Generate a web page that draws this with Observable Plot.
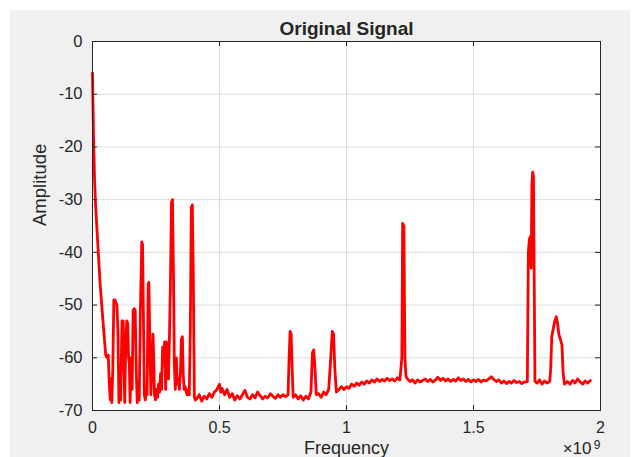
<!DOCTYPE html>
<html>
<head>
<meta charset="utf-8">
<script src="https://cdn.jsdelivr.net/npm/d3@7"></script>
<script src="https://cdn.jsdelivr.net/npm/@observablehq/plot@0.6"></script>
<style>
  html, body { margin: 0; padding: 0; background: #ffffff; }
  #fig { position: absolute; left: 10px; top: 10px; }
</style>
</head>
<body>
<div id="fig"></div>
<script>
// Spectrum of the original signal: frequency in units of 1e9 Hz, amplitude in dB
const freq = [
  0.000, 0.004, 0.008, 0.012, 0.018, 0.024, 0.030, 0.038, 0.046, 0.052,
  0.058, 0.062, 0.066, 0.070, 0.073, 0.076, 0.080, 0.084, 0.088, 0.092,
  0.096, 0.100, 0.104, 0.108, 0.111, 0.116, 0.121, 0.124, 0.127, 0.131,
  0.135, 0.139, 0.142, 0.145, 0.148, 0.152, 0.156, 0.160, 0.164, 0.168,
  0.172, 0.176, 0.180, 0.184, 0.189, 0.194, 0.197, 0.200, 0.204, 0.208,
  0.212, 0.215, 0.219, 0.222, 0.226, 0.230, 0.235, 0.238, 0.241, 0.244,
  0.248, 0.252, 0.256, 0.260, 0.264, 0.268, 0.272, 0.276, 0.280, 0.284,
  0.288, 0.291, 0.295, 0.299, 0.303, 0.307, 0.311, 0.315, 0.319, 0.322,
  0.326, 0.330, 0.334, 0.338, 0.342, 0.346, 0.350, 0.354, 0.357, 0.361,
  0.365, 0.369, 0.373, 0.377, 0.381, 0.385, 0.389, 0.393, 0.397, 0.401,
  0.405, 0.410, 0.420, 0.430, 0.440, 0.450, 0.460, 0.470, 0.480, 0.490,
  0.500, 0.505, 0.510, 0.520, 0.530, 0.540, 0.550, 0.560, 0.570, 0.580,
  0.590, 0.600, 0.610, 0.620, 0.630, 0.640, 0.650, 0.660, 0.670, 0.680,
  0.690, 0.700, 0.710, 0.720, 0.730, 0.740, 0.750, 0.760, 0.770, 0.774,
  0.778, 0.782, 0.786, 0.790, 0.800, 0.810, 0.820, 0.830, 0.840, 0.850,
  0.860, 0.866, 0.871, 0.876, 0.881, 0.890, 0.900, 0.910, 0.920, 0.930,
  0.938, 0.944, 0.949, 0.954, 0.960, 0.970, 0.980, 0.990, 1.000, 1.010,
  1.020, 1.030, 1.040, 1.050, 1.060, 1.070, 1.080, 1.090, 1.100, 1.110,
  1.120, 1.130, 1.140, 1.150, 1.160, 1.170, 1.180, 1.190, 1.200, 1.210,
  1.218, 1.221, 1.226, 1.230, 1.234, 1.240, 1.250, 1.260, 1.270, 1.280,
  1.290, 1.300, 1.310, 1.320, 1.330, 1.340, 1.350, 1.360, 1.370, 1.380,
  1.390, 1.400, 1.410, 1.420, 1.430, 1.440, 1.450, 1.460, 1.470, 1.480,
  1.490, 1.500, 1.510, 1.520, 1.530, 1.540, 1.550, 1.560, 1.570, 1.580,
  1.590, 1.600, 1.610, 1.620, 1.630, 1.640, 1.650, 1.660, 1.670, 1.680,
  1.690, 1.700, 1.712, 1.716, 1.720, 1.724, 1.727, 1.730, 1.733, 1.736,
  1.739, 1.742, 1.750, 1.760, 1.770, 1.780, 1.790, 1.800, 1.804, 1.808,
  1.814, 1.820, 1.826, 1.831, 1.836, 1.842, 1.848, 1.853, 1.858, 1.870,
  1.880, 1.890, 1.900, 1.910, 1.920, 1.930, 1.940, 1.950, 1.960
];

const amp = [
  -6.0, -18.0, -26.0, -31.0, -36.0, -41.0, -46.0, -51.0, -56.0, -59.5,
  -60.0, -59.5, -65.0, -68.0, -64.0, -68.5, -62.0, -49.0, -49.0, -49.5,
  -50.0, -55.0, -68.5, -62.0, -68.0, -53.0, -53.0, -62.0, -68.5, -57.0,
  -53.0, -53.5, -60.0, -61.0, -68.5, -60.0, -66.0, -51.0, -50.7, -51.0,
  -62.0, -68.5, -66.0, -68.0, -50.0, -38.0, -38.5, -50.0, -67.0, -68.0,
  -66.0, -67.0, -46.0, -45.7, -58.0, -67.0, -60.0, -55.5, -60.0, -67.0,
  -68.0, -66.0, -67.5, -65.0, -66.5, -63.0, -66.0, -58.0, -60.0, -57.0,
  -66.0, -57.0, -61.0, -64.0, -56.0, -45.0, -30.5, -30.0, -45.0, -61.0,
  -66.0, -60.0, -65.0, -64.0, -66.0, -63.0, -56.5, -56.0, -63.0, -66.0,
  -65.5, -66.5, -67.0, -66.0, -67.0, -55.0, -31.5, -31.0, -45.0, -67.5,
  -68.0, -67.8, -67.0, -68.2, -67.3, -67.8, -66.8, -67.5, -66.5, -66.0,
  -65.0, -66.5, -65.8, -67.0, -66.0, -67.5, -66.8, -68.0, -67.2, -67.8,
  -67.0, -66.2, -67.5, -67.8, -67.0, -67.6, -66.5, -67.2, -67.8, -67.3,
  -67.6, -66.8, -67.3, -67.7, -67.0, -67.5, -67.0, -67.4, -67.0, -60.0,
  -55.0, -55.5, -62.0, -67.5, -67.0, -67.8, -67.2, -68.0, -67.3, -67.8,
  -66.5, -59.0, -58.5, -62.0, -67.0, -66.8, -67.5, -66.5, -67.0, -66.0,
  -60.0, -55.0, -55.5, -62.0, -66.5, -66.0, -65.5, -66.0, -65.5, -65.8,
  -65.0, -65.4, -64.8, -65.2, -64.6, -65.0, -64.4, -64.8, -64.2, -64.6,
  -64.0, -64.5, -64.1, -64.4, -63.9, -64.3, -64.0, -64.4, -63.8, -64.2,
  -60.0, -34.5, -35.0, -60.0, -63.5, -64.0, -64.5, -64.2, -64.8, -64.2,
  -64.6, -64.3, -64.0, -64.5, -64.1, -64.6, -64.2, -63.7, -64.3, -63.9,
  -64.4, -64.0, -64.5, -64.1, -64.4, -63.8, -64.3, -64.0, -64.5, -64.1,
  -64.6, -64.2, -64.5, -64.1, -64.6, -64.2, -64.4, -64.0, -63.6, -64.1,
  -64.5, -64.2, -64.8, -64.4, -64.9, -64.5, -64.8, -64.3, -64.7, -64.5,
  -64.9, -64.6, -64.5, -40.0, -37.5, -37.0, -43.0, -27.0, -24.8, -25.5,
  -45.0, -64.5, -64.8, -64.2, -65.0, -64.4, -64.8, -64.5, -62.0, -56.0,
  -54.5, -53.0, -52.2, -53.5, -55.5, -56.5, -57.5, -63.0, -65.0, -64.5,
  -65.0, -64.3, -64.8, -64.0, -64.6, -65.0, -64.4, -64.8, -64.3
];

const xTicks = [0, 0.5, 1, 1.5, 2];
const xTickLabels = ["0", "0.5", "1", "1.5", "2"];
const yTicks = [0, -10, -20, -30, -40, -50, -60, -70];
const yTickLabels = ["0", "-10", "-20", "-30", "-40", "-50", "-60", "-70"];

const title = "Original Signal";
const xLabel = "Frequency";
const yLabel = "Amplitude";
const xExponentBase = "\u00d710";
const xExponent = "9";

const spectrum = freq.map((f, i) => ({f, a: amp[i]}));

const ink = "#262626";
const gridColor = "#dcdcdc";
const W = 620, H = 447;
const mL = 82, mR = 30, mT = 31, mB = 47;
const tickLen = 5;
const frameW = W - mL - mR, frameH = H - mT - mB;

const chart = Plot.plot({
  width: W,
  height: H,
  marginLeft: mL,
  marginRight: mR,
  marginTop: mT,
  marginBottom: mB,
  style: {
    background: "#f0f0f0",
    fontFamily: "'Liberation Sans', Arial, sans-serif",
    color: ink
  },
  x: {domain: [0, 2]},
  y: {domain: [-70, 0]},
  marks: [
    Plot.frame({fill: "white", stroke: null}),
    Plot.gridX(xTicks, {stroke: gridColor, strokeOpacity: 1}),
    Plot.gridY(yTicks, {stroke: gridColor, strokeOpacity: 1}),
    Plot.line(spectrum, {x: "f", y: "a", stroke: "#ff0000", strokeWidth: 2.8, strokeLinejoin: "round", strokeLinecap: "round"}),
    Plot.frame({stroke: ink, strokeWidth: 1}),
    // inward tick marks on all four sides of the box
    Plot.ruleX(xTicks, {stroke: ink, insetTop: frameH - tickLen}),
    Plot.ruleX(xTicks, {stroke: ink, insetBottom: frameH - tickLen}),
    Plot.ruleY(yTicks, {stroke: ink, insetRight: frameW - tickLen}),
    Plot.ruleY(yTicks, {stroke: ink, insetLeft: frameW - tickLen}),
    // tick labels
    Plot.axisX(xTicks, {anchor: "bottom", tickSize: 0, tickPadding: 11, tickFormat: (d, i) => xTickLabels[i], label: null, fill: ink, fontSize: 16}),
    Plot.axisY(yTicks, {anchor: "left", tickSize: 0, tickPadding: 10, tickFormat: (d, i) => yTickLabels[i], label: null, fill: ink, fontSize: 16.5}),
    // titles
    Plot.text([title], {frameAnchor: "top", dy: -20.5, fontWeight: "bold", fontSize: 19, fill: ink}),
    Plot.text([yLabel], {frameAnchor: "left", dx: -52, rotate: -90, fontSize: 18.5, fill: ink}),
    Plot.text([xLabel], {frameAnchor: "bottom", dy: 43.5, fontSize: 18, fill: ink}),
    Plot.text([xExponentBase], {frameAnchor: "bottom-right", dx: -9, dy: 43.5, textAnchor: "end", fontSize: 17, fill: ink}),
    Plot.text([xExponent], {frameAnchor: "bottom-right", dx: 0, dy: 38, textAnchor: "end", fontSize: 12, fill: ink})
  ]
});

document.getElementById("fig").appendChild(chart);
</script>
</body>
</html>
